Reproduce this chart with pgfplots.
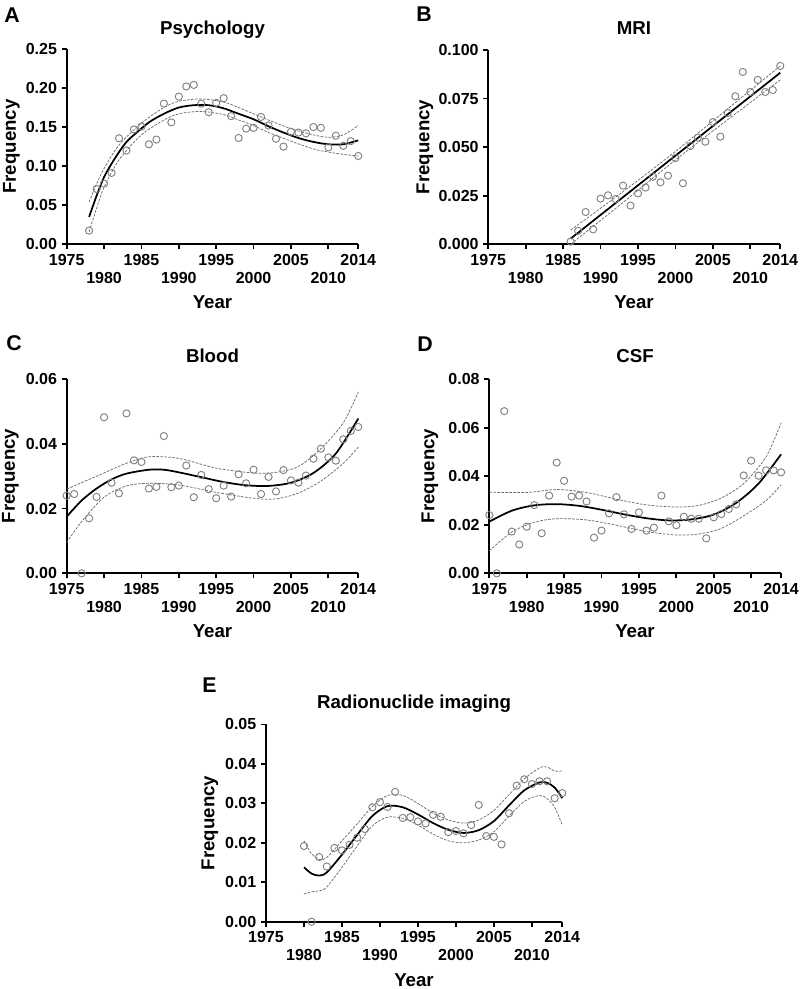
\documentclass[border=0pt]{standalone}
\usepackage{fontspec}
\setmainfont{Liberation Sans}
\usepackage{pgfplots}
\pgfplotsset{compat=1.18}
\definecolor{ptc}{gray}{0.5}
\definecolor{bandc}{gray}{0.42}
\pgfplotsset{
  prism/.style={
    scale only axis,
    axis x line*=bottom, axis y line*=left,
    axis line style={-, line width=1.4pt, black},
    tick style={line width=1.3pt, black},
    tick align=outside, major tick length=3.75pt,
    xmin=1975, xmax=2014, ymin=0,
    xtick={1975,1985,1995,2005,2014},
    extra x ticks={1980,1990,2000,2010},
    extra x tick style={xticklabel style={yshift=-13.5pt}},
    minor tick num=0,
    scaled y ticks=false,
    clip=false,
    tick label style={font=\fontsize{12}{13}\selectfont\bfseries},
    /pgf/number format/assume math mode=true,
    /pgf/number format/1000 sep={},
    xticklabel style={/pgf/number format/1000 sep={}},
  },
  pts/.style={only marks, mark=o, mark size=2.7pt, color=ptc, mark options={line width=0.7pt}},
  fit/.style={smooth, no markers, line width=1.3pt, black},
  band/.style={smooth, no markers, line width=0.55pt, color=bandc, dash pattern=on 2pt off 1pt},
}
\begin{document}
\begin{tikzpicture}
\useasboundingbox (0,0) rectangle (600pt,-741.75pt);

% ---------- A ----------
\begin{axis}[prism, at={(50.0pt,-183.2pt)}, anchor=south west, width=218.7pt, height=146.5pt,
  ymax=0.25, ytick={0,0.05,0.10,0.15,0.20,0.25},
  yticklabel style={/pgf/number format/.cd, fixed, fixed zerofill, precision=2}]
\addplot[band] coordinates {(1978,0.054)(1979,0.077)(1980,0.097)(1982,0.127)(1985,0.155)(1988,0.175)(1990,0.183)(1993,0.186)(1996,0.182)(1998,0.175)(2000,0.167)(2002,0.159)(2005,0.148)(2008,0.140)(2010,0.137)(2012,0.140)(2014,0.152)};
\addplot[band] coordinates {(1978,0.016)(1979,0.046)(1980,0.073)(1982,0.108)(1985,0.140)(1988,0.159)(1990,0.167)(1993,0.170)(1996,0.166)(1998,0.159)(2000,0.152)(2002,0.143)(2005,0.132)(2008,0.122)(2010,0.118)(2012,0.115)(2014,0.113)};
\addplot[fit] coordinates {(1978,0.035)(1979,0.062)(1980,0.086)(1981,0.103)(1982,0.118)(1983,0.131)(1984,0.140)(1986,0.156)(1988,0.167)(1990,0.175)(1992,0.178)(1994,0.178)(1996,0.174)(1998,0.167)(2000,0.160)(2002,0.151)(2004,0.143)(2006,0.136)(2008,0.131)(2010,0.128)(2012,0.128)(2014,0.133)};
\addplot[pts] coordinates {(1978,0.0175)(1979,0.0708)(1980,0.0776)(1981,0.0913)(1982,0.1357)(1983,0.120)(1984,0.147)(1985,0.1506)(1986,0.128)(1987,0.134)(1988,0.180)(1989,0.156)(1990,0.189)(1991,0.202)(1992,0.204)(1993,0.180)(1994,0.169)(1995,0.181)(1996,0.187)(1997,0.164)(1998,0.136)(1999,0.148)(2000,0.149)(2001,0.163)(2002,0.152)(2003,0.135)(2004,0.125)(2005,0.144)(2006,0.143)(2007,0.142)(2008,0.150)(2009,0.149)(2010,0.124)(2011,0.139)(2012,0.126)(2013,0.132)(2014,0.113)};
\end{axis}

% ---------- B ----------
\begin{axis}[prism, at={(366.2pt,-183.2pt)}, anchor=south west, width=219.0pt, height=145.7pt,
  ymax=0.1, ytick={0,0.025,0.05,0.075,0.1},
  yticklabel style={/pgf/number format/.cd, fixed, fixed zerofill, precision=3}]
\addplot[band] coordinates {(1986,0.0073)(1993,0.0271)(2000,0.0478)(2007,0.0698)(2014,0.0918)};
\addplot[band] coordinates {(1986,0.0)(1993,0.0215)(2000,0.0434)(2007,0.0642)(2014,0.0846)};
\addplot[fit] coordinates {(1986,0.0029)(2014,0.0883)};
\addplot[pts] coordinates {(1986,0.0014)(1987,0.0069)(1988,0.0166)(1989,0.0077)(1990,0.0235)(1991,0.0252)(1992,0.0233)(1993,0.0302)(1994,0.0199)(1995,0.0262)(1996,0.0292)(1997,0.0348)(1998,0.0319)(1999,0.0353)(2000,0.0444)(2001,0.0314)(2002,0.0506)(2003,0.0549)(2004,0.0528)(2005,0.0629)(2006,0.0554)(2007,0.0676)(2008,0.0762)(2009,0.0887)(2010,0.0784)(2011,0.0846)(2012,0.0784)(2013,0.0794)(2014,0.0918)};
\end{axis}

% ---------- C ----------
\begin{axis}[prism, at={(50.0pt,-430.0pt)}, anchor=south west, width=218.7pt, height=145.7pt,
  ymax=0.06, ytick={0,0.02,0.04,0.06},
  yticklabel style={/pgf/number format/.cd, fixed, fixed zerofill, precision=2}]
\addplot[band] coordinates {(1975,0.0260)(1978,0.0290)(1980,0.0310)(1983,0.0340)(1986,0.0360)(1990,0.0355)(1995,0.0325)(2000,0.0310)(2003,0.0312)(2006,0.0330)(2009,0.0385)(2012,0.0465)(2014,0.0560)};
\addplot[band] coordinates {(1975,0.0095)(1977,0.0160)(1980,0.0235)(1983,0.0270)(1986,0.0278)(1990,0.0273)(1995,0.0250)(2000,0.0232)(2003,0.0230)(2006,0.0248)(2009,0.0285)(2012,0.0340)(2014,0.0390)};
\addplot[fit] coordinates {(1975,0.0175)(1977,0.0225)(1979,0.0262)(1981,0.0290)(1983,0.0308)(1986,0.0320)(1988,0.0320)(1990,0.0312)(1993,0.0297)(1996,0.0282)(1999,0.0272)(2002,0.0270)(2005,0.0280)(2008,0.0310)(2011,0.0370)(2014,0.0478)};
\addplot[pts] coordinates {(1975,0.0240)(1976,0.0245)(1977,0.0)(1978,0.0170)(1979,0.0236)(1980,0.0482)(1981,0.0280)(1982,0.0247)(1983,0.0494)(1984,0.0349)(1985,0.0344)(1986,0.0262)(1987,0.0267)(1988,0.0424)(1989,0.0266)(1990,0.0271)(1991,0.0333)(1992,0.0235)(1993,0.0304)(1994,0.0260)(1995,0.0232)(1996,0.0271)(1997,0.0237)(1998,0.0306)(1999,0.0278)(2000,0.0320)(2001,0.0245)(2002,0.0298)(2003,0.0253)(2004,0.0319)(2005,0.0287)(2006,0.0280)(2007,0.0302)(2008,0.0354)(2009,0.0385)(2010,0.0358)(2011,0.0348)(2012,0.0414)(2013,0.0440)(2014,0.0452)};
\end{axis}

% ---------- D ----------
\begin{axis}[prism, at={(367.0pt,-430.0pt)}, anchor=south west, width=218.8pt, height=145.7pt,
  ymax=0.08, ytick={0,0.02,0.04,0.06,0.08},
  yticklabel style={/pgf/number format/.cd, fixed, fixed zerofill, precision=2}]
\addplot[band] coordinates {(1975,0.0334)(1980,0.0333)(1984,0.0345)(1988,0.0333)(1992,0.0305)(1996,0.0282)(2000,0.0273)(2003,0.0280)(2006,0.0310)(2009,0.0370)(2012,0.0480)(2014,0.0620)};
\addplot[band] coordinates {(1975,0.0093)(1978,0.0170)(1981,0.0210)(1984,0.0225)(1988,0.0220)(1992,0.0198)(1996,0.0172)(2000,0.0158)(2003,0.0162)(2006,0.0185)(2009,0.0237)(2012,0.0300)(2014,0.0365)};
\addplot[fit] coordinates {(1975,0.0213)(1978,0.0258)(1981,0.0280)(1984,0.0285)(1987,0.0278)(1990,0.0262)(1993,0.0243)(1996,0.0227)(1999,0.0218)(2002,0.0222)(2005,0.0242)(2008,0.0290)(2011,0.0370)(2014,0.0490)};
\addplot[pts] coordinates {(1975,0.0240)(1976,0.0)(1977,0.0668)(1978,0.0172)(1979,0.0119)(1980,0.0192)(1981,0.0281)(1982,0.0165)(1983,0.0320)(1984,0.0456)(1985,0.0381)(1986,0.0316)(1987,0.0320)(1988,0.0296)(1989,0.0147)(1990,0.0176)(1991,0.0247)(1992,0.0314)(1993,0.0243)(1994,0.0183)(1995,0.0251)(1996,0.0176)(1997,0.0188)(1998,0.0320)(1999,0.0214)(2000,0.0198)(2001,0.0233)(2002,0.0225)(2003,0.0225)(2004,0.0144)(2005,0.0231)(2006,0.0244)(2007,0.0265)(2008,0.0284)(2009,0.0403)(2010,0.0464)(2011,0.0402)(2012,0.0424)(2013,0.0424)(2014,0.0416)};
\end{axis}

% ---------- E ----------
\begin{axis}[prism, at={(199.5pt,-691.3pt)}, anchor=south west, width=222.2pt, height=148.0pt,
  ymax=0.05, ytick={0,0.01,0.02,0.03,0.04,0.05},
  yticklabel style={/pgf/number format/.cd, fixed, fixed zerofill, precision=2}]
\addplot[band] coordinates {(1980,0.0205)(1981,0.0172)(1982,0.0158)(1983,0.0163)(1985,0.0205)(1987,0.0248)(1989,0.0292)(1991,0.0320)(1993,0.0320)(1995,0.0300)(1997,0.0275)(1999,0.0258)(2001,0.0250)(2003,0.0258)(2005,0.0282)(2007,0.0322)(2009,0.0362)(2011,0.0390)(2012,0.0392)(2013,0.0382)(2014,0.0382)};
\addplot[band] coordinates {(1980,0.0070)(1981,0.0076)(1982,0.0078)(1983,0.0088)(1985,0.0138)(1987,0.0192)(1989,0.0243)(1991,0.0265)(1993,0.0262)(1995,0.0245)(1997,0.0222)(1999,0.0205)(2001,0.0200)(2003,0.0207)(2005,0.0228)(2007,0.0268)(2009,0.0305)(2011,0.0320)(2012,0.0312)(2013,0.0290)(2014,0.0245)};
\addplot[fit] coordinates {(1980,0.0138)(1981,0.0122)(1982,0.0117)(1983,0.0125)(1985,0.0170)(1987,0.0220)(1989,0.0268)(1991,0.0293)(1993,0.0290)(1995,0.0272)(1997,0.0250)(1999,0.0233)(2001,0.0225)(2003,0.0232)(2005,0.0255)(2007,0.0295)(2009,0.0333)(2011,0.0353)(2012,0.0352)(2013,0.0340)(2014,0.0313)};
\addplot[pts] coordinates {(1980,0.0192)(1981,0.0)(1982,0.0164)(1983,0.0140)(1984,0.0187)(1985,0.0181)(1986,0.0195)(1987,0.0213)(1988,0.0235)(1989,0.0290)(1990,0.0303)(1991,0.0291)(1992,0.0329)(1993,0.0263)(1994,0.0265)(1995,0.0254)(1996,0.0249)(1997,0.0271)(1998,0.0266)(1999,0.0227)(2000,0.0230)(2001,0.0224)(2002,0.0245)(2003,0.0296)(2004,0.0217)(2005,0.0215)(2006,0.0196)(2007,0.0275)(2008,0.0345)(2009,0.0361)(2010,0.0349)(2011,0.0356)(2012,0.0356)(2013,0.0313)(2014,0.0326)};
\end{axis}

% ---------- texts ----------
\begin{scope}[x=0.75pt, y=-0.75pt]
\tikzset{lett/.style={anchor=base west, inner sep=0pt, font=\fontsize{16}{18}\selectfont\bfseries},
         ttl/.style={anchor=base, inner sep=0pt, font=\fontsize{14}{16}\selectfont\bfseries},
         lab/.style={anchor=center, inner sep=0pt, font=\fontsize{14}{16}\selectfont\bfseries}}
\node[lett] at (4,22) {A};
\node[lett] at (416,21) {B};
\node[lett] at (6,350) {C};
\node[lett] at (417,351) {D};
\node[lett] at (202,692) {E};
\node[ttl] at (212.5,34.3) {Psychology};
\node[ttl] at (634,34.3) {MRI};
\node[ttl] at (212.5,362.7) {Blood};
\node[ttl] at (635,362.7) {CSF};
\node[ttl] at (414,708.3) {Radionuclide imaging};
\node[lab, rotate=90] at (11.5,146.6) {Frequency};
\node[lab, rotate=90] at (425,147) {Frequency};
\node[lab, rotate=90] at (10.5,476) {Frequency};
\node[lab, rotate=90] at (430,476) {Frequency};
\node[lab, rotate=90] at (210,823) {Frequency};
\node[lab] at (212.5,302) {Year};
\node[lab] at (634,302) {Year};
\node[lab] at (212.5,631) {Year};
\node[lab] at (635,631) {Year};
\node[lab] at (414,980) {Year};
\end{scope}
\end{tikzpicture}
\end{document}
